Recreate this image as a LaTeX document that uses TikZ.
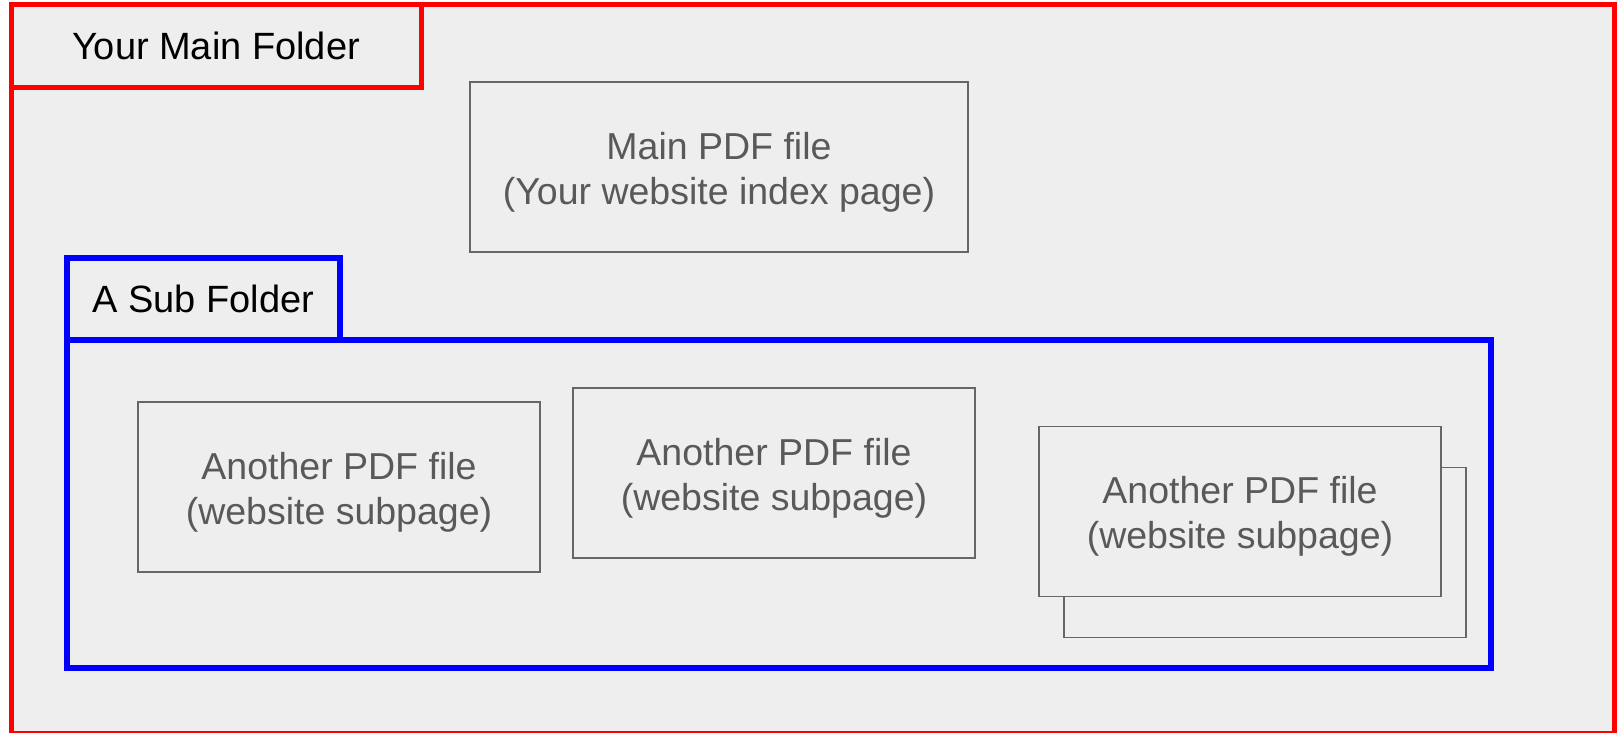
\documentclass[tikz,border=0pt]{standalone}
\usepackage{fontspec}
\setmainfont{Liberation Sans}
\usepackage{tikz}
\usetikzlibrary{%
  positioning
 ,calc
}
\definecolor{sheet}{HTML}{EEEEEE}
\definecolor{boxline}{HTML}{666666}
\definecolor{boxtext}{HTML}{595959}
\tikzstyle{folderframe}=[rectangle,inner sep=0pt,outer sep=0pt,line width=5pt,fill=sheet]
\tikzstyle{foldertab}=[folderframe,font=\fontsize{38}{45}\selectfont,text=black]
\tikzstyle{pdfbox}=[rectangle,draw=boxline,fill=sheet,line width=1.5pt,inner sep=0pt,
  minimum width=402pt,minimum height=170pt,align=center,text=boxtext,
  text height=82pt,font=\fontsize{37.5}{45}\selectfont]

\begin{document}
\begin{tikzpicture}[x=1pt,y=-1pt]
      \clip (0,0) rectangle (1617,732);
      \useasboundingbox (0,0) rectangle (1617,732);
      % main folder
      \node[folderframe,draw=red,minimum width=1603pt,minimum height=729pt] (mainframe) at (812.5,368.5) {};
      \node[foldertab,draw=red,minimum width=410pt,minimum height=83pt] (maintab) at (216,45.5) {Your Main Folder};
      \node[pdfbox,minimum width=498pt] (mainpdf) at (719,167) {Main PDF file\\(Your website index page)};
      % sub folder
      \node[folderframe,draw=blue,line width=6.5pt,minimum width=1424pt,minimum height=328pt] (subframe) at (779,504) {};
      \node[foldertab,draw=blue,line width=6.5pt,minimum width=273pt,minimum height=82pt] (subtab) at (203.5,299) {A Sub Folder};
      \node[pdfbox] (subpdf1) at (339,487) {Another PDF file\\(website subpage)};
      \node[pdfbox] (subpdf2) at (774,473) {Another PDF file\\(website subpage)};
      \node[pdfbox] (subpdf3back) at (1265,552.5) {};
      \node[pdfbox] (subpdf3) at (1240,511.5) {Another PDF file\\(website subpage)};
    \end{tikzpicture}
\end{document}
